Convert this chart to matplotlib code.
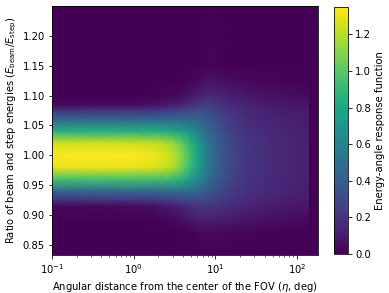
import numpy as np
import matplotlib
matplotlib.use("Agg")
import matplotlib.pyplot as plt
from matplotlib.ticker import FormatStrFormatter

# Angular distance samples (deg)
eta = [0.1, 1.0, 1.8, 2.6, 3.4, 4.2, 5.0, 6.0, 7.0, 8.5, 11.0, 16.0, 25.0, 45.0, 80.0, 140.0, 142.0, 180.0]
# Energy ratio samples
ratio = [0.833, 0.87, 0.89, 0.915, 0.925, 0.94, 0.96, 0.98, 1.00, 1.02, 1.04, 1.06,
         1.075, 1.085, 1.10, 1.125, 1.15, 1.25]

# Response values, one list per eta column (over ratio, low to high)
resp_0p1 = [0.0, 0.0, 0.0, 0.03, 0.20, 0.45, 0.95, 1.30, 1.35, 1.26, 0.85, 0.45, 0.20, 0.03, 0.0, 0.0, 0.0, 0.0]
resp_1 = [0.0, 0.0, 0.0, 0.04, 0.21, 0.45, 0.95, 1.30, 1.35, 1.25, 0.85, 0.45, 0.21, 0.04, 0.0, 0.0, 0.0, 0.0]
resp_1p8 = [0.0, 0.0, 0.01, 0.06, 0.22, 0.45, 0.94, 1.28, 1.32, 1.23, 0.84, 0.45, 0.22, 0.06, 0.01, 0.0, 0.0, 0.0]
resp_2p6 = [0.0, 0.0, 0.02, 0.09, 0.24, 0.46, 0.92, 1.23, 1.27, 1.18, 0.82, 0.46, 0.24, 0.09, 0.02, 0.0, 0.0, 0.0]
resp_3p4 = [0.0, 0.0, 0.03, 0.12, 0.26, 0.47, 0.88, 1.14, 1.17, 1.09, 0.79, 0.46, 0.26, 0.12, 0.03, 0.0, 0.0, 0.0]
resp_4p2 = [0.0, 0.01, 0.05, 0.15, 0.28, 0.47, 0.82, 1.02, 1.05, 0.98, 0.74, 0.46, 0.28, 0.15, 0.05, 0.01, 0.0, 0.0]
resp_5 = [0.0, 0.01, 0.07, 0.18, 0.29, 0.46, 0.74, 0.90, 0.92, 0.87, 0.68, 0.45, 0.30, 0.18, 0.08, 0.02, 0.0, 0.0]
resp_6 = [0.0, 0.02, 0.09, 0.20, 0.30, 0.44, 0.65, 0.77, 0.78, 0.75, 0.60, 0.43, 0.31, 0.21, 0.11, 0.03, 0.0, 0.0]
resp_7 = [0.0, 0.03, 0.10, 0.21, 0.29, 0.41, 0.56, 0.65, 0.66, 0.63, 0.53, 0.40, 0.31, 0.23, 0.14, 0.05, 0.01, 0.0]
resp_8p5 = [0.0, 0.03, 0.11, 0.21, 0.27, 0.36, 0.46, 0.51, 0.52, 0.50, 0.44, 0.36, 0.29, 0.23, 0.16, 0.07, 0.02, 0.0]
resp_11 = [0.0, 0.03, 0.10, 0.19, 0.24, 0.30, 0.36, 0.40, 0.40, 0.39, 0.35, 0.30, 0.25, 0.20, 0.14, 0.06, 0.01, 0.0]
resp_16 = [0.0, 0.02, 0.08, 0.16, 0.19, 0.23, 0.26, 0.28, 0.28, 0.27, 0.25, 0.22, 0.19, 0.16, 0.11, 0.04, 0.0, 0.0]
resp_25 = [0.0, 0.02, 0.07, 0.13, 0.16, 0.18, 0.20, 0.21, 0.21, 0.21, 0.19, 0.17, 0.15, 0.13, 0.08, 0.03, 0.0, 0.0]
resp_45 = [0.0, 0.01, 0.05, 0.11, 0.13, 0.15, 0.16, 0.17, 0.17, 0.17, 0.16, 0.14, 0.12, 0.10, 0.06, 0.02, 0.0, 0.0]
resp_80 = [0.0, 0.01, 0.04, 0.09, 0.11, 0.13, 0.14, 0.14, 0.14, 0.14, 0.13, 0.12, 0.10, 0.08, 0.05, 0.01, 0.0, 0.0]
resp_140 = [0.0, 0.01, 0.03, 0.08, 0.10, 0.11, 0.12, 0.12, 0.12, 0.12, 0.11, 0.10, 0.09, 0.07, 0.04, 0.01, 0.0, 0.0]
resp_142 = [0.0] * 18
resp_180 = [0.0] * 18

columns = [resp_0p1, resp_1, resp_1p8, resp_2p6, resp_3p4, resp_4p2, resp_5, resp_6, resp_7,
           resp_8p5, resp_11, resp_16, resp_25, resp_45, resp_80, resp_140, resp_142, resp_180]

Z = np.array(columns).T
X, Y = np.meshgrid(eta, ratio)

DPI = 72
plt.rcParams['font.size'] = 10
fig = plt.figure(figsize=(389/DPI, 293/DPI), dpi=DPI)
ax = fig.add_axes([52/389, 38/293, 266/389, 249/293])
cax = fig.add_axes([334/389, 39/293, 14/389, 247/293])

mesh = ax.pcolormesh(X, Y, Z, shading='gouraud', cmap='viridis', vmin=0, vmax=1.35)
ax.set_xscale('log')
ax.set_xlim(0.1, 180)
ax.set_ylim(0.833, 1.25)
ax.set_yticks([0.85, 0.90, 0.95, 1.00, 1.05, 1.10, 1.15, 1.20])
ax.yaxis.set_major_formatter(FormatStrFormatter('%.2f'))
ax.set_xlabel(r'Angular distance from the center of the FOV ($\eta$, deg)')
ax.set_ylabel(r'Ratio of beam and step energies ($E_\mathrm{beam}/E_\mathrm{step}$)')

cb = fig.colorbar(mesh, cax=cax)
cb.set_ticks([0.0, 0.2, 0.4, 0.6, 0.8, 1.0, 1.2])
cb.set_label('Energy-angle response function')

fig.savefig('out.png', dpi=DPI)
